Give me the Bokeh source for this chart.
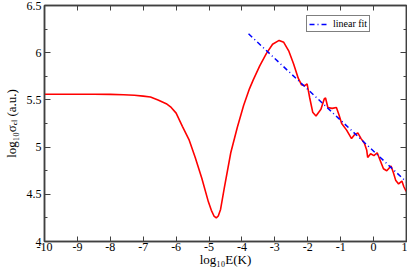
from bokeh.plotting import figure
from bokeh.models import LinearAxis, Legend, LegendItem, Range1d, FixedTicker
from bokeh.embed import file_html
from bokeh.resources import INLINE

# ---- data ----
log_e = [-10.0, -9.0, -8.5, -8.0, -7.6, -7.27, -7.0, -6.78, -6.55, -6.30,
         -6.15, -6.00, -5.81, -5.61, -5.42, -5.22, -5.02, -4.93, -4.85, -4.78,
         -4.72, -4.65, -4.54, -4.34, -4.14, -3.95, -3.77, -3.66, -3.46, -3.26,
         -3.07, -2.87, -2.73, -2.58, -2.43, -2.29, -2.19, -2.09, -2.02, -1.94,
         -1.85, -1.75, -1.60, -1.50, -1.46, -1.39, -1.26, -1.13, -1.06, -0.97,
         -0.82, -0.67, -0.58, -0.48, -0.38, -0.28, -0.21, -0.18, -0.09, 0.01,
         0.11, 0.21, 0.30, 0.40, 0.53, 0.60, 0.67, 0.76, 0.86, 0.92, 0.99]
sigma = [5.56, 5.56, 5.56, 5.558, 5.555, 5.55, 5.54, 5.53, 5.50, 5.46,
         5.42, 5.36, 5.22, 5.08, 4.89, 4.67, 4.42, 4.33, 4.27, 4.25,
         4.27, 4.34, 4.56, 4.94, 5.21, 5.44, 5.62, 5.71, 5.86, 5.99,
         6.09, 6.13, 6.11, 6.02, 5.88, 5.73, 5.66, 5.65, 5.67, 5.52,
         5.37, 5.33, 5.40, 5.51, 5.52, 5.42, 5.41, 5.42, 5.35, 5.25,
         5.18, 5.09, 5.13, 5.15, 5.09, 5.04, 4.97, 4.89, 4.93, 4.91,
         4.94, 4.85, 4.77, 4.75, 4.80, 4.73, 4.65, 4.61, 4.64, 4.58, 4.53]
fit_x = [-3.8, 1.0]
fit_y = [6.20, 4.63]

x_ticks = [-10, -9, -8, -7, -6, -5, -4, -3, -2, -1, 0, 1]
x_tick_labels = ["-10", "-9", "-8", "-7", "-6", "-5", "-4", "-3", "-2", "-1", "0", "1"]
y_ticks = [4, 4.5, 5, 5.5, 6, 6.5]
y_tick_labels = ["4", "4.5", "5", "5.5", "6", "6.5"]
y_minor = [4.25, 4.75, 5.25, 5.75, 6.25]
x_title = "log₁₀E(K)"
y_title = "log₁₀σₑₗ (a.u.)"

SERIF = "Liberation Serif"
AX = "#404040"
W, H = 407, 269

p = figure(width=W, height=H, x_range=Range1d(-10, 1), y_range=Range1d(4, 6.5),
           output_backend="svg", toolbar_location=None,
           x_axis_location=None, y_axis_location=None,
           min_border_left=37, min_border_right=1, min_border_top=5,
           min_border_bottom=24)
p.grid.visible = False
p.outline_line_color = AX
p.outline_line_width = 1.5
p.background_fill_color = "white"
p.border_fill_color = "white"

def style_axis(ax, ticks, minor, labels, show_labels):
    ax.ticker = FixedTicker(ticks=ticks, minor_ticks=minor)
    ax.axis_line_color = AX
    ax.axis_line_width = 1.5
    ax.major_tick_line_color = AX
    ax.minor_tick_line_color = AX
    ax.major_tick_line_width = 1
    ax.minor_tick_line_width = 1
    ax.major_tick_in = 6
    ax.major_tick_out = 0
    ax.minor_tick_in = 3
    ax.minor_tick_out = 0
    if show_labels:
        ax.major_label_overrides = {t: l for t, l in zip(ticks, labels)}
        ax.major_label_text_font = SERIF
        ax.major_label_text_font_size = "12px"
        ax.major_label_text_font_style = "normal"
        ax.major_label_text_color = "black"
        ax.major_label_standoff = 3
        ax.axis_label_text_font = SERIF
        ax.axis_label_text_font_size = "13px"
        ax.axis_label_text_font_style = "normal"
        ax.axis_label_text_color = "black"
        ax.axis_label_standoff = 0
    else:
        ax.major_label_overrides = {t: "" for t in ticks}
        ax.major_label_standoff = 0

xb = LinearAxis(); style_axis(xb, x_ticks, [], x_tick_labels, True)
xb.major_tick_in = 5
xb.major_label_standoff = 1
xb.axis_label = x_title
xb.axis_label_standoff = -2
yl = LinearAxis(); style_axis(yl, y_ticks, y_minor, y_tick_labels, True)
yl.axis_label = y_title
yl.axis_label_standoff = 5
xt = LinearAxis(); style_axis(xt, x_ticks, [], x_tick_labels, False)
xt.major_tick_in = 5
yr = LinearAxis(); style_axis(yr, y_ticks, y_minor, y_tick_labels, False)
p.add_layout(xb, "below")
p.add_layout(yl, "left")
p.add_layout(xt, "above")
p.add_layout(yr, "right")

p.line(log_e, sigma, line_color="#ff0000", line_width=1.6)
fit_r = p.line(fit_x, fit_y, line_color="#0000ff", line_width=1.5, line_dash="5 3 1 3")

legend = Legend(items=[LegendItem(label="linear fit", renderers=[fit_r])],
                location=(262, 209))
legend.label_text_font = SERIF
legend.label_text_font_size = "10px"
legend.label_text_font_style = "normal"
legend.label_text_color = "black"
legend.border_line_color = "black"
legend.border_line_width = 1
legend.padding = 2
legend.margin = 0
legend.spacing = 0
legend.glyph_width = 18
legend.glyph_height = 10
legend.label_standoff = 6
legend.label_height = 10
legend.background_fill_alpha = 1
p.add_layout(legend)

open("out.html", "w").write(file_html(p, INLINE))
